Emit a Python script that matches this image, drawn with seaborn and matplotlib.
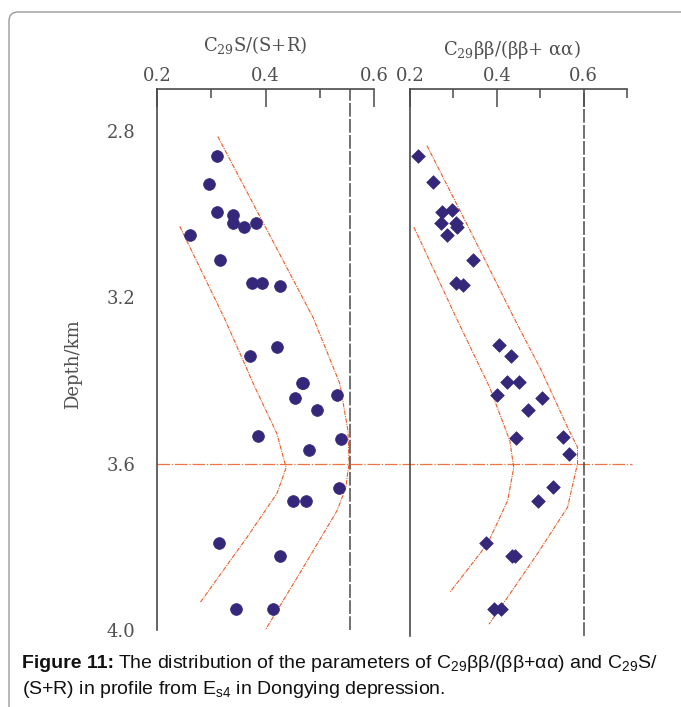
import numpy as np
import pandas as pd
import seaborn as sns
import matplotlib
matplotlib.use("Agg")
import matplotlib.pyplot as plt
from matplotlib.patches import FancyBboxPatch
from matplotlib.transforms import IdentityTransform
from matplotlib.ticker import MultipleLocator

# ---------- Data ----------
# C29 S/(S+R) samples (circles)
sr_val = [0.310, 0.296, 0.310, 0.341, 0.341, 0.360, 0.382, 0.260, 0.316, 0.376, 0.394, 0.427,
          0.422, 0.371, 0.467, 0.470, 0.455, 0.532, 0.495, 0.387, 0.540, 0.481, 0.535, 0.450,
          0.474, 0.314, 0.427, 0.345, 0.413]
sr_depth = [2.862, 2.928, 2.996, 3.002, 3.023, 3.032, 3.023, 3.052, 3.110, 3.167, 3.167, 3.173,
            3.320, 3.342, 3.406, 3.406, 3.442, 3.435, 3.471, 3.535, 3.540, 3.567, 3.658, 3.689,
            3.689, 3.791, 3.821, 3.950, 3.950]

# C29 bb/(bb+aa) samples (diamonds)
bb_val = [0.218, 0.252, 0.274, 0.297, 0.271, 0.307, 0.309, 0.286, 0.345, 0.306, 0.321,
          0.405, 0.432, 0.424, 0.451, 0.401, 0.505, 0.472, 0.552, 0.444, 0.566, 0.529, 0.495,
          0.376, 0.435, 0.443, 0.393, 0.409]
bb_depth = [2.860, 2.923, 2.996, 2.990, 3.022, 3.022, 3.032, 3.052, 3.110, 3.166, 3.172,
            3.314, 3.342, 3.405, 3.405, 3.435, 3.442, 3.471, 3.535, 3.539, 3.578, 3.657, 3.689,
            3.791, 3.821, 3.821, 3.950, 3.950]

# envelope curves
sr_outer_x = [0.312, 0.488, 0.537, 0.552, 0.554, 0.548, 0.532, 0.463, 0.394]
sr_outer_d = [2.814, 3.250, 3.408, 3.521, 3.600, 3.658, 3.713, 3.864, 4.012]
sr_inner_x = [0.242, 0.325, 0.381, 0.421, 0.438, 0.421, 0.366, 0.279]
sr_inner_d = [3.030, 3.253, 3.418, 3.528, 3.610, 3.672, 3.777, 3.935]

bb_outer_x = [0.239, 0.372, 0.441, 0.503, 0.563, 0.586, 0.586, 0.563, 0.494, 0.425, 0.382]
bb_outer_d = [2.836, 3.109, 3.253, 3.377, 3.513, 3.561, 3.600, 3.705, 3.816, 3.921, 3.986]
bb_inner_x = [0.209, 0.308, 0.384, 0.430, 0.439, 0.425, 0.379, 0.319, 0.292]
bb_inner_d = [3.032, 3.253, 3.418, 3.545, 3.610, 3.689, 3.792, 3.873, 3.909]

sr_limit = 0.555     # dashed equilibrium line, left panel
bb_limit = 0.60      # dashed equilibrium line, right panel
break_depth = 3.6

y_ticks = [2.8, 3.2, 3.6, 4.0]
x_ticks = [0.2, 0.4, 0.6]

# ---------- Style ----------
sns.set_style("white")
plt.rcParams["font.family"] = ["DejaVu Serif"]
plt.rcParams["mathtext.fontset"] = "custom"
plt.rcParams["mathtext.rm"] = "DejaVu Serif"

PT = "#35277a"
ENV = "#ef5a24"
GREY = "#4a4a4a"
TXT = "#505050"

W, H = 681, 707
fig = plt.figure(figsize=(W / 100, H / 100), dpi=100)

def px_axes(x0, y0, x1, y1):
    return fig.add_axes([x0 / W, 1 - y1 / H, (x1 - x0) / W, (y1 - y0) / H])

ax1 = px_axes(157, 89, 374, 630)
ax2 = px_axes(410, 89, 627, 636)
for ax in (ax1, ax2):
    ax.patch.set_alpha(0)

ax1.set_xlim(0.2, 0.6)
ax1.set_ylim(4.0, 2.7)
ax2.set_xlim(0.2, 0.7)
ax2.set_ylim(4.0 + 6 / 417.5, 2.7)

env_kw = dict(color=ENV, lw=0.8, sort=False, estimator=None, legend=False,
              linestyle=(0, (4, 1, 1, 1)))

# left panel
sns.lineplot(x=sr_outer_x, y=sr_outer_d, ax=ax1, **env_kw)
sns.lineplot(x=sr_inner_x, y=sr_inner_d, ax=ax1, **env_kw)
sns.scatterplot(x=sr_val, y=sr_depth, ax=ax1, color=PT, marker="o", s=72,
                edgecolor=PT, linewidth=0.5, zorder=3)
ax1.axvline(sr_limit, color=GREY, lw=1.1, ls=(0, (9, 1.5)))

# right panel
sns.lineplot(x=bb_outer_x, y=bb_outer_d, ax=ax2, **env_kw)
sns.lineplot(x=bb_inner_x, y=bb_inner_d, ax=ax2, **env_kw)
sns.scatterplot(x=bb_val, y=bb_depth, ax=ax2, color=PT, marker="D", s=48,
                edgecolor=PT, linewidth=0.5, zorder=3)
ax2.axvline(bb_limit, color=GREY, lw=1.1, ls=(0, (9, 1.5)))

# horizontal boundary line across both panels
x_end = ax1.transData.inverted().transform(ax2.transData.transform((0.711, break_depth)))[0]
ax1.plot([0.2, x_end], [break_depth, break_depth], color=ENV, lw=0.9, alpha=0.85,
         ls=(0, (10, 1.5, 1, 1.5)), clip_on=False)

# axes cosmetics
for ax in (ax1, ax2):
    for s in ("right", "bottom"):
        ax.spines[s].set_visible(False)
    for s in ("top", "left"):
        ax.spines[s].set_color(GREY)
        ax.spines[s].set_linewidth(1.2)
    ax.xaxis.tick_top()
    ax.set_xticks(x_ticks)
    ax.set_xticklabels([f"{v:.1f}" for v in x_ticks])
    ax.xaxis.set_minor_locator(MultipleLocator(0.1))
    ax.tick_params(axis="x", which="major", direction="in", length=13, width=1.1,
                   color=GREY, labelcolor=TXT, labelsize=13, pad=3)
    ax.tick_params(axis="x", which="minor", direction="in", length=6.5, width=1.1, color=GREY)
    ax.set_xlabel("")
    ax.set_ylabel("")

ax1.set_yticks(y_ticks)
ax1.set_yticklabels([f"{v:.1f}" for v in y_ticks])
ax1.yaxis.set_minor_locator(MultipleLocator(0.1))
ax1.tick_params(axis="y", which="major", direction="out", length=14.5, width=1.1,
                color=GREY, labelcolor=TXT, labelsize=13, pad=1)
ax1.tick_params(axis="y", which="minor", direction="out", length=8, width=1.1, color=GREY)
ax2.set_yticks([])
ax2.tick_params(axis="y", which="both", left=False)

ax1.set_ylabel("Depth/km", fontsize=13, color=TXT)
ax1.yaxis.set_label_coords(-0.345, 0.492)

ax1.text(0.452, 1.081, r"C$\mathregular{_{29}}$S/(S+R)", transform=ax1.transAxes,
         ha="center", va="center", fontsize=13, color=TXT)
ax2.text(0.47, 1.072, r"C$\mathregular{_{29}}$ββ/(ββ+ αα)", transform=ax2.transAxes,
         ha="center", va="center", fontsize=13, color=TXT)

# caption: bold lead-in, then the rest placed right after it
cap_font = ["Liberation Sans", "DejaVu Sans"]
lead = fig.text(22 / W, 1 - 663 / H, "Figure 11:", family=cap_font, fontsize=14,
                weight="bold", color="#111111", va="center", ha="left")
renderer = fig.canvas.get_renderer()
x_after = lead.get_window_extent(renderer).x1 + 4
fig.text(x_after / W, 1 - 663 / H,
         r"The distribution of the parameters of "
         r"C$\mathregular{_{29}}$ββ/(ββ+αα) and C$\mathregular{_{29}}$S/",
         family=cap_font, fontsize=14, color="#111111", va="center", ha="left")
fig.text(22 / W, 1 - 690 / H,
         r"(S+R) in profile from E$\mathregular{_{s4}}$ in Dongying depression.",
         family=cap_font, fontsize=14, color="#111111", va="center", ha="left")

# page frame
frame = FancyBboxPatch((9, -20), 720, H - 12 + 20, boxstyle="round,pad=0,rounding_size=9",
                       transform=IdentityTransform(), fill=False, edgecolor="#9a9a9a", lw=1.0)
fig.add_artist(frame)

fig.savefig("out.png", dpi=100)
